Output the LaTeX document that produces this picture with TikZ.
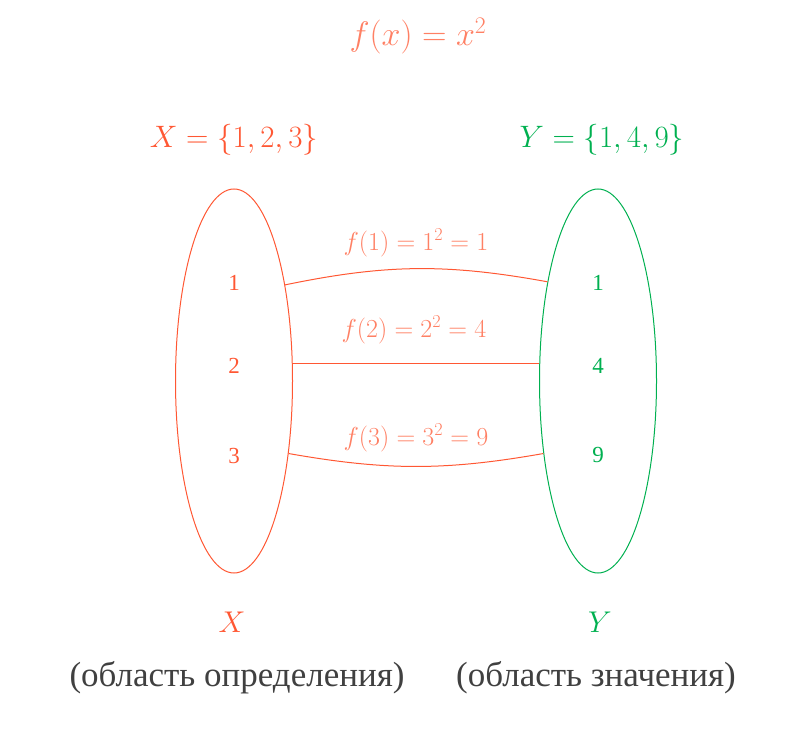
\RequirePackage{fix-cm}
\documentclass[tikz,border=0pt]{standalone}
\usepackage{fontspec}
\setmainfont{Liberation Serif}
\usetikzlibrary{shapes.geometric}
\definecolor{xred}{RGB}{255,87,51}
\definecolor{fsalmon}{RGB}{255,128,100}
\definecolor{ygreen}{RGB}{0,176,80}
\definecolor{tgray}{RGB}{64,64,64}
\newcommand{\fs}[1]{\fontsize{#1bp}{#1bp}\selectfont}
\tikzset{
  setell/.style={ellipse, draw=#1, line width=1bp, minimum width=117bp, minimum height=384bp, inner sep=0pt},
  elem/.style={text=#1, font=\fs{23}, inner sep=0pt},
  maplink/.style={draw=xred, line width=1bp},
  maplabel/.style={text=fsalmon, font=\fs{26}, inner sep=0pt},
}
\begin{document}
\begin{tikzpicture}[x=1bp, y=-1bp]
\useasboundingbox (0,0) rectangle (807,744);
\node[text=fsalmon, font=\fs{34}] (title) at (418,36) {$f(x) = x^2$};
\node[text=xred, font=\fs{31}] (setX) at (234,140) {$X = \{1, 2, 3\}$};
\node[text=ygreen, font=\fs{31}] (setY) at (602,140) {$Y = \{1, 4, 9\}$};
\node[setell=xred] (L) at (234,381) {};
\node[setell=ygreen] (R) at (598,381) {};
\node[elem=xred] (x1) at (234,283) {1};
\node[elem=xred] (x2) at (234,366) {2};
\node[elem=xred] (x3) at (234,456) {3};
\node[elem=ygreen] (y1) at (598,283) {1};
\node[elem=ygreen] (y4) at (598,366) {4};
\node[elem=ygreen] (y9) at (598,455) {9};
\draw[maplink] (L.62) to[bend left=11] (R.117);
\draw[maplink] (L.17) -- (R.163);
\draw[maplink] (L.-53) to[bend right=10] (R.233);
\node[maplabel] (l1) at (416,243) {$f(1) = 1^2 = 1$};
\node[maplabel] (l2) at (414,330) {$f(2) = 2^2 = 4$};
\node[maplabel] (l3) at (416,438) {$f(3) = 3^2 = 9$};
\node[text=xred, font=\fs{30}] (bx) at (232,622) {$X$};
\node[text=ygreen, font=\fs{30}] (by) at (600,622) {$Y$};
\node[text=tgray, font=\fs{35}] (dom) at (237,678) {(область определения)};
\node[text=tgray, font=\fs{35}] (rng) at (596,678) {(область значения)};
\end{tikzpicture}
\end{document}
